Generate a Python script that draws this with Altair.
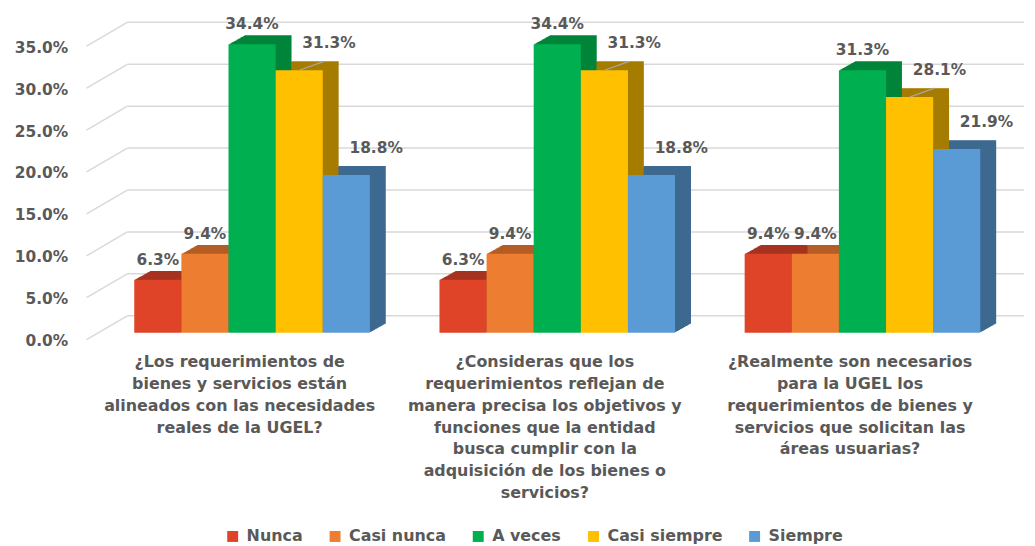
import json
import altair as alt
import pandas as pd

# ---------------- data ----------------
question_lines = [
    ["¿Los requerimientos de", "bienes y servicios están",
     "alineados con las necesidades", "reales de la UGEL?"],
    ["¿Consideras que los", "requerimientos reflejan de",
     "manera precisa los objetivos y", "funciones que la entidad",
     "busca cumplir con la", "adquisición de los bienes o", "servicios?"],
    ["¿Realmente son necesarios", "para la UGEL los",
     "requerimientos de bienes y", "servicios que solicitan las",
     "áreas usuarias?"],
]
questions = ["|".join(l) for l in question_lines]
series = ["Nunca", "Casi nunca", "A veces", "Casi siempre", "Siempre"]
q1_values = [0.063, 0.094, 0.344, 0.313, 0.188]
q2_values = [0.063, 0.094, 0.344, 0.313, 0.188]
q3_values = [0.094, 0.094, 0.313, 0.281, 0.219]
tick_values = [0.0, 0.05, 0.10, 0.15, 0.20, 0.25, 0.30, 0.35]

# ---------------- style ----------------
front_colors = ["#df4428", "#ed7d31", "#00b050", "#ffc000", "#5b9bd5"]
dark_colors = ["#a63220", "#b45d24", "#00843a", "#a67c00", "#3d6890"]
text_color = "#595959"
grid_color = "#d9d9d9"
FONT = "DejaVu Sans"
group_pad = 0.114  # outer padding of each category slot (fraction of slot)

values = [q1_values, q2_values, q3_values]
bar_w = (1 - 2 * group_pad) / len(series)
rows = []
for i, q in enumerate(questions):
    for j, s in enumerate(series):
        left = i + group_pad + j * bar_w
        rows.append({"q": q, "s": s, "v": values[i][j], "dark": dark_colors[j],
                     "left": left, "right": left + bar_w, "mid": left + bar_w / 2})
df = pd.DataFrame(rows)
ticks_df = pd.DataFrame({"tick": tick_values})

W, H = 921, 312
y_scale = alt.Scale(domain=[0, 0.37], nice=False, zero=True)
x_scale = alt.Scale(domain=[0, len(questions)], nice=False, zero=False)

label_expr = "split(" + json.dumps(questions, ensure_ascii=False) + "[floor(datum.value)], '|')"
x_axis = alt.Axis(title=None, domain=False, ticks=False, grid=False, labelAngle=0,
                  values=[i + 0.5 for i in range(len(questions))],
                  labelExpr=label_expr,
                  labelFont=FONT, labelFontWeight="bold", labelFontSize=16,
                  labelColor=text_color, labelLineHeight=22, labelPadding=21,
                  labelLimit=0, labelOffset=-13, labelOverlap=False)
y_axis = alt.Axis(title=None, values=tick_values, format=".1%", grid=False,
                  domain=False, ticks=False, labelPadding=32, labelOffset=8,
                  labelFont=FONT, labelFontWeight="bold", labelFontSize=15.5,
                  labelColor=text_color)

# back wall gridlines
grid = alt.Chart(ticks_df).mark_rule(color=grid_color, strokeWidth=1.5, yOffset=-17).encode(
    y=alt.Y("tick:Q", scale=y_scale, axis=y_axis),
    x=alt.value(28), x2=alt.value(930),
)
# side wall diagonals
diag = alt.Chart(ticks_df).mark_rule(color=grid_color, strokeWidth=1.5,
                                     yOffset=7, y2Offset=-17).encode(
    y=alt.Y("tick:Q", scale=y_scale, axis=y_axis),
    y2=alt.Y2("tick"),
    x=alt.value(-13), x2=alt.value(28),
)

layers = [grid, diag]
# 3D depth: sweep of darker bars along the depth vector
steps = 16
for k in range(1, steps + 1):
    ox = k * 1.0
    oy = -k * 9.0 / steps
    layers.append(
        alt.Chart(df).mark_bar(xOffset=ox, x2Offset=ox, yOffset=oy, y2Offset=oy).encode(
            x=alt.X("left:Q", scale=x_scale, axis=x_axis),
            x2="right:Q",
            y=alt.Y("v:Q", scale=y_scale, axis=y_axis),
            y2=alt.datum(0),
            color=alt.Color("dark:N", scale=None, legend=None),
        )
    )

front = alt.Chart(df).mark_bar().encode(
    x=alt.X("left:Q", scale=x_scale, axis=x_axis),
    x2="right:Q",
    y=alt.Y("v:Q", scale=y_scale, axis=y_axis),
    y2=alt.datum(0),
    fill=alt.Fill("s:N", sort=series,
                  scale=alt.Scale(domain=series, range=front_colors),
                  legend=alt.Legend(title=None, orient="none", legendX=126, legendY=509,
                                    direction="horizontal", symbolType="square",
                                    symbolSize=121, symbolStrokeWidth=0,
                                    labelFont=FONT, labelFontWeight="bold",
                                    labelFontSize=16, labelColor=text_color,
                                    columnPadding=24, labelOffset=6, padding=0)),
)
layers.append(front)

# leader lines for the "Casi siempre" labels
leader = alt.Chart(df).transform_filter(
    alt.FieldEqualPredicate(field="s", equal="Casi siempre")
).mark_rule(color="#a6a6a6", strokeWidth=1.2, x2Offset=25, y2Offset=-9).encode(
    x=alt.X("mid:Q", scale=x_scale, axis=x_axis),
    x2="mid:Q",
    y=alt.Y("v:Q", scale=y_scale, axis=y_axis),
    y2="v:Q",
)
layers.append(leader)

label_low = alt.Chart(df).transform_filter(
    alt.FieldOneOfPredicate(field="s", oneOf=series[:3])
).mark_text(font=FONT, fontWeight="bold", fontSize=15.5, color=text_color,
            dy=-20, baseline="middle").encode(
    x=alt.X("mid:Q", scale=x_scale, axis=x_axis),
    y=alt.Y("v:Q", scale=y_scale, axis=y_axis),
    text=alt.Text("v:Q", format=".1%"),
)
label_high = alt.Chart(df).transform_filter(
    alt.FieldOneOfPredicate(field="s", oneOf=series[3:])
).mark_text(font=FONT, fontWeight="bold", fontSize=15.5, color=text_color,
            dx=30, dy=-27, baseline="middle").encode(
    x=alt.X("mid:Q", scale=x_scale, axis=x_axis),
    y=alt.Y("v:Q", scale=y_scale, axis=y_axis),
    text=alt.Text("v:Q", format=".1%"),
)
layers += [label_low, label_high]

chart = alt.layer(*layers).properties(
    width=W, height=H,
    autosize=alt.AutoSizeParams(type="none"),
    padding={"left": 92, "top": 13, "right": 12, "bottom": 213},
    background="white",
).configure_view(stroke=None)

chart.save("out.html", embed_options={"renderer": "svg", "actions": False})
